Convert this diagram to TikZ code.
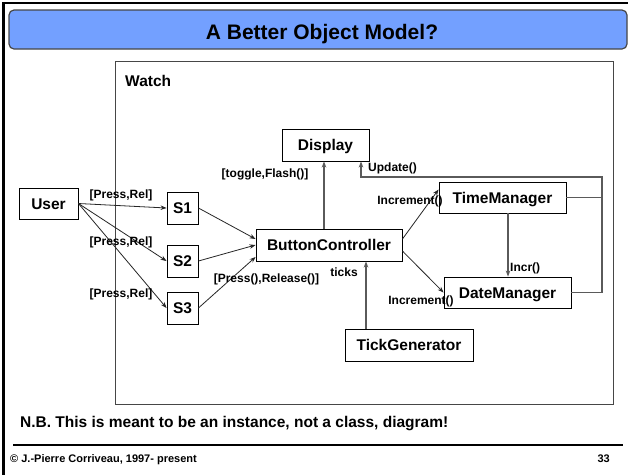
\documentclass[tikz,border=0pt]{standalone}
\usepackage{fontspec}
\setmainfont{Liberation Sans}
\usetikzlibrary{arrows.meta,calc}
\definecolor{titleblue}{RGB}{115,160,255}
\definecolor{framegray}{RGB}{70,70,70}
\definecolor{linkgray}{RGB}{90,90,90}
\begin{document}
\begin{tikzpicture}[x=1pt,y=-1pt,
  obj/.style={draw=black,line width=0.9pt,fill=white,inner sep=0pt,
    text height=11pt,text depth=0pt,
    font=\fontsize{15.5}{18}\selectfont\bfseries},
  lbl/.style={inner sep=0pt,text height=8.6pt,text depth=0pt,
    font=\fontsize{12}{14}\selectfont\bfseries},
  biglbl/.style={inner sep=0pt,text height=11pt,text depth=0pt,
    font=\fontsize{15.5}{18}\selectfont\bfseries},
  footlbl/.style={inner sep=0pt,text height=7.9pt,text depth=0pt,
    font=\fontsize{11}{13}\selectfont\bfseries},
  msg/.style={draw=black!85,line width=0.8pt,-{Stealth[length=6pt,width=4.5pt]}},
  link/.style={draw=linkgray,line width=1.3pt},
  linkarr/.style={link,-{Stealth[length=6pt,width=4.5pt]}},
]
\useasboundingbox (0,0) rectangle (628,475);
\fill[white] (0,0) rectangle (628,475);

% slide frame and title bar
\draw[line width=2.5pt] (628,3) -- (3.5,3) -- (3.5,475);
\draw[fill=titleblue,draw=framegray,line width=1.2pt,rounded corners=5pt]
  (9,10) rectangle (627,49);
\node[inner sep=0pt,text height=15pt,text depth=0pt,
  font=\fontsize{21}{24}\selectfont\bfseries] (title) at (322,31.5)
  {A Better Object Model?};

% the Watch container
\draw[draw=framegray,line width=0.9pt] (115,61) rectangle (613,404);
\node[biglbl,anchor=west] (watch) at (125,81) {Watch};

% objects
\node[obj,minimum width=59pt,minimum height=31pt] (user) at (48.5,203.5) {User};
\node[obj,minimum width=31pt,minimum height=32pt] (s1) at (182.5,208) {S1};
\node[obj,minimum width=31pt,minimum height=32pt] (s2) at (182.5,261) {S2};
\node[obj,minimum width=31pt,minimum height=32pt] (s3) at (182.5,308) {S3};
\node[obj,minimum width=146pt,minimum height=32pt] (bc) at (329,245) {ButtonController};
\node[obj,minimum width=87pt,minimum height=32pt] (disp) at (325.5,145) {Display};
\node[obj,minimum width=127pt,minimum height=31pt] (tm) at (502.5,197.5) {TimeManager};
\node[obj,minimum width=127pt,minimum height=31pt] (dm) at (507.5,292.5) {DateManager};
\node[obj,minimum width=128pt,minimum height=32pt] (tg) at (409,345) {TickGenerator};

% user presses the buttons
\draw[msg] (user.east) -- (s1.west);
\draw[msg] (user.east) -- (s2.west);
\draw[msg] (user.east) -- (s3.west);
\node[lbl] (l1) at (121,194) {[Press,Rel]};
\node[lbl] (l2) at (121,241) {[Press,Rel]};
\node[lbl] (l3) at (121,293) {[Press,Rel]};

% buttons notify the controller
\draw[msg] (s1.east) -- ($(bc.west)+(0,-6)$);
\draw[msg] (s2.east) -- (bc.west);
\draw[msg] (s3.east) -- ($(bc.west)+(0,12)$);
\node[lbl] (lpr) at (266.5,278) {[Press(),Release()]};

% controller drives the display
\coordinate (bcup) at ($(bc.north)+(-5,0)$);
\draw[linkarr] (bcup) -- (bcup |- disp.south);
\node[lbl] (ltf) at (265,173) {[toggle,Flash()]};

% clock ticks
\coordinate (tgup) at ($(tg.north)+(-43,0)$);
\draw[linkarr] (tgup) -- (tgup |- bc.south);
\node[lbl] (lticks) at (344,272) {ticks};

% increments
\draw[msg] ($(bc.east)+(0,-6)$) -- ($(tm.west)+(0,-8)$);
\draw[msg] ($(bc.east)+(0,6)$) -- (dm.west);
\node[lbl] (linc1) at (410,200) {Increment()};
\node[lbl] (linc2) at (421,300) {Increment()};

\coordinate (tmdown) at ($(tm.south)+(5.5,0)$);
\draw[linkarr] (tmdown) -- (tmdown |- dm.north);
\node[lbl,anchor=west] (lincr) at (510,267) {Incr()};

% display updates
\coordinate (bus) at (602,177);
\coordinate (updx) at ($(disp.south)+(35.5,0)$);
\draw[link] (tm.east) -- (tm.east -| bus);
\draw[linkarr] (dm.east) -| (bus) -| (updx);
\node[lbl,anchor=west] (lupd) at (368,167.5) {Update()};

% note and footer
\node[biglbl,anchor=west] (note) at (20,422)
  {N.B. This is meant to be an instance, not a class, diagram!};
\draw[line width=1.2pt] (13,445) -- (623,445);
\node[footlbl,anchor=west] (copy) at (10,459) {© J.-Pierre Corriveau, 1997- present};
\node[footlbl,anchor=east] (page) at (610,459) {33};
\end{tikzpicture}
\end{document}
